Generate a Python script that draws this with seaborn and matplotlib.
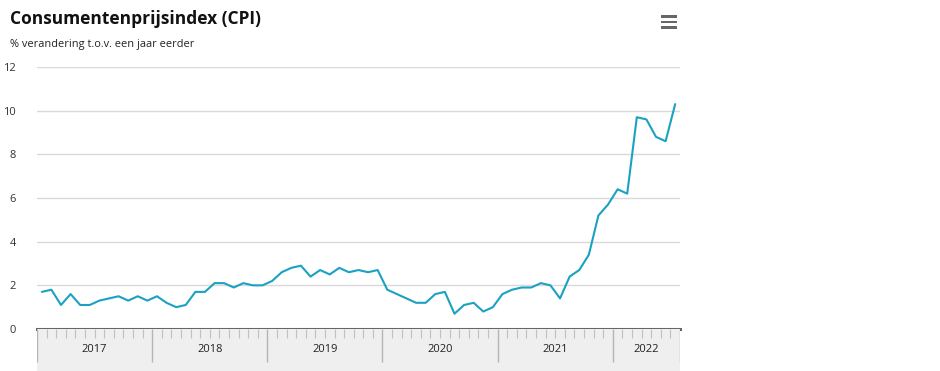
import matplotlib
matplotlib.use("Agg")
import matplotlib.pyplot as plt
import seaborn as sns
import pandas as pd
import numpy as np
from matplotlib.patches import Rectangle

years = ["2017", "2018", "2019", "2020", "2021", "2022"]
months_per_year = [12, 12, 12, 12, 12, 7]
cpi = [1.7, 1.8, 1.1, 1.6, 1.1, 1.1, 1.3, 1.4, 1.5, 1.3, 1.5, 1.3,
       1.5, 1.2, 1.0, 1.1, 1.7, 1.7, 2.1, 2.1, 1.9, 2.1, 2.0, 2.0,
       2.2, 2.6, 2.8, 2.9, 2.4, 2.7, 2.5, 2.8, 2.6, 2.7, 2.6, 2.7,
       1.8, 1.6, 1.4, 1.2, 1.2, 1.6, 1.7, 0.7, 1.1, 1.2, 0.8, 1.0,
       1.6, 1.8, 1.9, 1.9, 2.1, 2.0, 1.4, 2.4, 2.7, 3.4, 5.2, 5.7,
       6.4, 6.2, 9.7, 9.6, 8.8, 8.6, 10.3]
yticks = [0, 2, 4, 6, 8, 10, 12]

df = pd.DataFrame({"maand": np.arange(len(cpi)), "cpi": cpi})

sns.set_theme(style="white")
plt.rcParams['font.family'] = ['Open Sans', 'DejaVu Sans']

W, H = 940, 371
fig = plt.figure(figsize=(W / 100, H / 100), dpi=100)
fig.patch.set_facecolor("white")

x0, x1 = 37, 680
y_top, y_axis = 67, 329
ax = fig.add_axes([x0 / W, 1 - y_axis / H, (x1 - x0) / W, (y_axis - y_top) / H])
sns.lineplot(data=df, x="maand", y="cpi", ax=ax, color="#1ba1c2", linewidth=1.5)
n = len(cpi)
ax.set_xlim(-0.5, n - 0.5)
ax.set_ylim(0, 12)
ax.set_yticks(yticks)
ax.set_yticklabels([str(t) for t in yticks], fontsize=8, color="#333333")
ax.tick_params(axis="y", length=0, pad=15)
ax.set_xticks([])
ax.set_xlabel("")
ax.set_ylabel("")
for t in yticks[1:]:
    ax.axhline(t, color="#d9d9d9", linewidth=1, zorder=0)
for s in ["top", "right", "left"]:
    ax.spines[s].set_visible(False)
ax.spines["bottom"].set_color("#666666")
ax.spines["bottom"].set_linewidth(2.2)
ax.patch.set_alpha(0)

# x-axis band
band = fig.add_axes([x0 / W, 0, (x1 - x0) / W, (H - y_axis) / H])
band.set_facecolor("#efefef")
band.set_xlim(-0.5, n - 0.5)
band.set_ylim(H - y_axis, 0)
for s in band.spines.values():
    s.set_visible(False)
band.set_xticks([])
band.set_yticks([])
bounds = np.cumsum([0] + months_per_year) - 0.5
year_b = set(bounds.tolist())
minor = [m - 0.5 for m in range(1, n) if (m - 0.5) not in year_b]
band.vlines(minor, 0, 9, color="#c0c0c0", linewidth=0.8)
band.vlines(bounds, 0, 33, color="#b5b5b5", linewidth=1)
for i, yr in enumerate(years):
    c = (bounds[i] + bounds[i + 1]) / 2
    band.text(c, 21, yr, ha="center", va="center", fontsize=8, color="#222222")

fig.text(10 / W, 1 - 19 / H, "Consumentenprijsindex (CPI)", fontsize=12.5,
         fontweight="bold", color="#111111", ha="left", va="center")
fig.text(10 / W, 1 - 44 / H, "% verandering t.o.v. een jaar eerder", fontsize=7.9,
         color="#222222", ha="left", va="center")

# menu icon
for yy in [16.5, 22, 27.5]:
    fig.patches.append(Rectangle((661 / W, 1 - (yy + 1.3) / H), 16 / W, 2.6 / H,
                                 transform=fig.transFigure, facecolor="#666666",
                                 edgecolor="none", linewidth=0))

fig.savefig("out.png", dpi=100, facecolor="white")
